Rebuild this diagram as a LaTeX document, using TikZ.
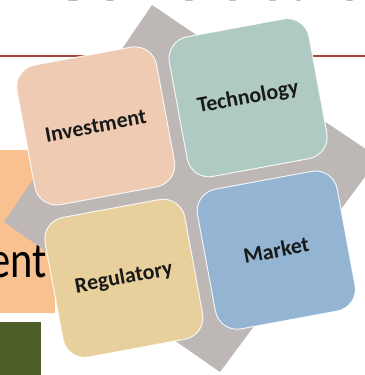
\documentclass[tikz,border=0pt]{standalone}
\usepackage{fontspec}
\setmainfont{Carlito}
\definecolor{orangeBox}{HTML}{F9C190}
\definecolor{greenBox}{HTML}{4E5E28}
\definecolor{redLine}{HTML}{A5443B}
\definecolor{diamondGray}{HTML}{BDB7B6}
\definecolor{invCol}{HTML}{F0CBB3}
\definecolor{techCol}{HTML}{AFCAC2}
\definecolor{regCol}{HTML}{E8D09C}
\definecolor{mktCol}{HTML}{93B4D2}
\definecolor{topGray}{HTML}{BBBBBB}
\begin{document}
\begin{tikzpicture}[x=1bp,y=-1bp,
  card/.style={rectangle, rounded corners=22bp, minimum width=142bp, minimum height=142bp,
    rotate=10.5, draw=white, draw opacity=0.85, line width=1bp,
    font=\bfseries\fontsize{22}{26}\selectfont, text=black!90},
  topmark/.style={topGray, line width=1.6bp, line cap=round}
]
\useasboundingbox (0,0) rectangle (365,375);
% background pieces of the slide
\fill[orangeBox] (0,150) rectangle (55,313);
\node[anchor=base east, inner sep=0pt, xscale=0.82, font=\fontsize{52}{60}\selectfont] (ent) at (47,277) {ent};
\fill[greenBox] (0,322) rectangle (41,375);
\draw[redLine, line width=2bp] (0,55.5) -- (365,55.5);
% bottoms of a cut-off heading
\foreach \a/\b in {69/77, 107/113, 186/192, 230/235, 270/275, 297/300, 347/352}
  \draw[topmark] (\a,0.3) -- (\b,0.3);
% gray diamond behind
\fill[diamondGray] (152,5) -- (379,158) -- (220,372) -- (4,222) -- cycle;
% cards
\node[card, fill=invCol]  (inv)  at (95.7,125.9) {Investment};
\node[card, fill=techCol] (tech) at (248.1,97.7) {Technology};
\node[card, fill=regCol]  (reg)  at (123.9,278.3) {Regulatory};
\node[card, fill=mktCol]  (mkt)  at (276.3,250.1) {Market};
\end{tikzpicture}
\end{document}
